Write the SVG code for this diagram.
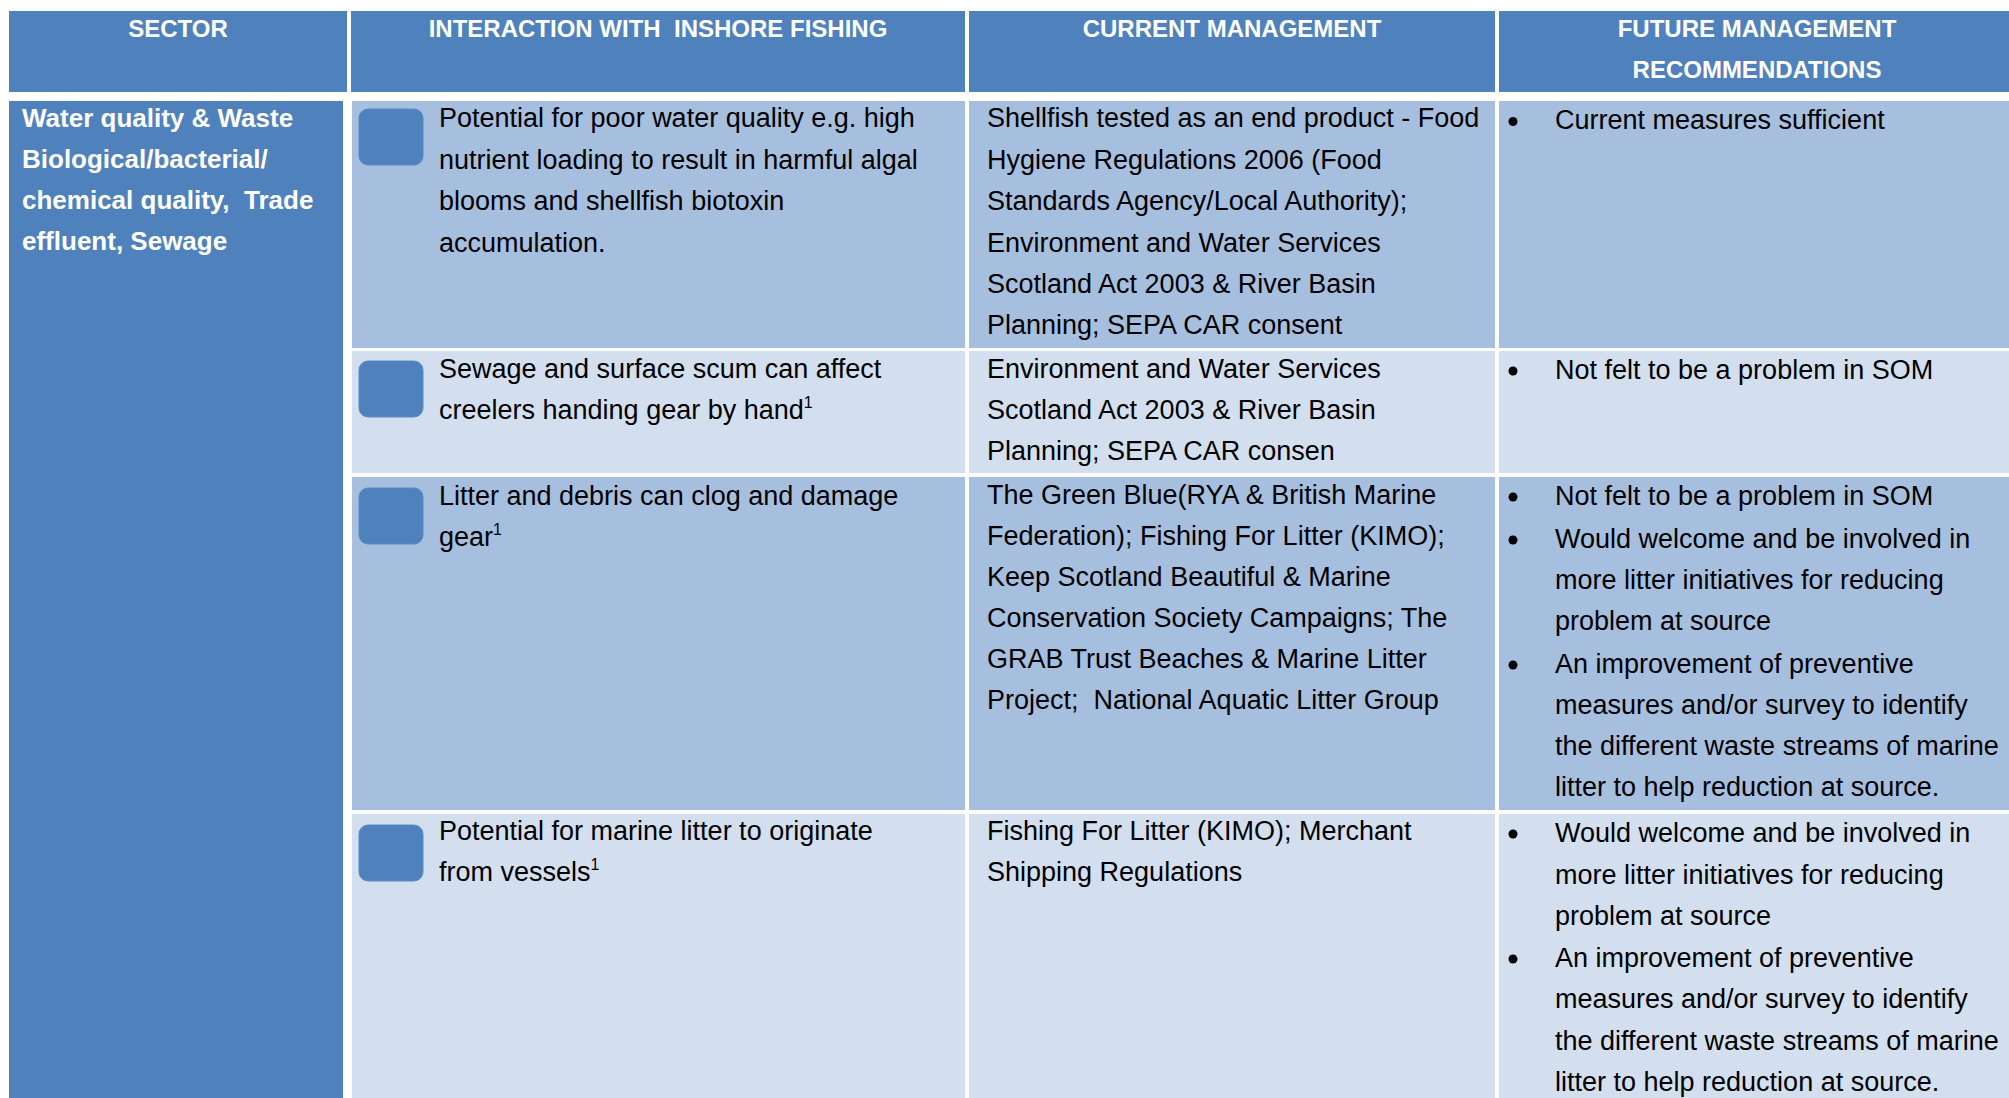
<svg xmlns="http://www.w3.org/2000/svg" width="2009" height="1098" viewBox="0 0 2009 1098">
<style>
.hd{fill:#4F81BD}
.mid{fill:#A7BFDE}
.lt{fill:#D3DFEE}
.ht{font-family:"Liberation Sans",Arial,sans-serif;font-weight:bold;font-size:24px;fill:#FFFFFF;text-anchor:middle;white-space:pre}
.st{font-family:"Liberation Sans",Arial,sans-serif;font-weight:bold;font-size:26px;fill:#FFFFFF;white-space:pre}
.t{font-family:"Liberation Sans",Arial,sans-serif;font-size:27px;fill:#000000;white-space:pre}
.sup{font-size:16px}
.sq{fill:#4F81BD;stroke:#5A8AC4;stroke-width:1}
.b{fill:#000000}
</style>
<rect x="0" y="0" width="2009" height="1098" fill="#FFFFFF"/>
<g id="header">
  <g id="h-sector"><rect class="hd" x="9" y="11" width="338" height="81"/><text class="ht" x="178" y="37">SECTOR</text></g>
  <g id="h-interaction"><rect class="hd" x="351" y="11" width="614" height="81"/><text class="ht" x="658" y="37">INTERACTION WITH  INSHORE FISHING</text></g>
  <g id="h-current"><rect class="hd" x="969" y="11" width="526" height="81"/><text class="ht" x="1232" y="37">CURRENT MANAGEMENT</text></g>
  <g id="h-future"><rect class="hd" x="1499" y="11" width="510" height="81"/><text class="ht" x="1757" y="37">FUTURE MANAGEMENT</text><text class="ht" x="1757" y="78">RECOMMENDATIONS</text></g>
</g>
<g id="sector">
  <rect class="hd" x="9" y="101" width="334" height="997"/>
  <text class="st" x="22" y="127">Water quality &amp; Waste</text>
  <text class="st" x="22" y="168">Biological/bacterial/</text>
  <text class="st" x="22" y="209">chemical quality,  Trade</text>
  <text class="st" x="22" y="250">effluent, Sewage</text>
</g>
<g id="row1">
  <rect class="mid" x="352" y="101" width="613" height="247"/>
  <rect class="mid" x="969" y="101" width="526" height="247"/>
  <rect class="mid" x="1499" y="101" width="510" height="247"/>
  <rect class="sq" x="359" y="109" width="64" height="56" rx="9"/>
  <text class="t" x="439" y="127">Potential for poor water quality e.g. high</text>
  <text class="t" x="439" y="168.5">nutrient loading to result in harmful algal</text>
  <text class="t" x="439" y="210">blooms and shellfish biotoxin</text>
  <text class="t" x="439" y="251.5">accumulation.</text>
  <text class="t" x="987" y="127">Shellfish tested as an end product - Food</text>
  <text class="t" x="987" y="168.5">Hygiene Regulations 2006 (Food</text>
  <text class="t" x="987" y="210">Standards Agency/Local Authority);</text>
  <text class="t" x="987" y="251.5">Environment and Water Services</text>
  <text class="t" x="987" y="293">Scotland Act 2003 &amp; River Basin</text>
  <text class="t" x="987" y="334">Planning; SEPA CAR consent</text>
  <circle class="b" cx="1513" cy="121.5" r="4.5"/>
  <text class="t" x="1555" y="129">Current measures sufficient</text>
</g>
<g id="row2">
  <rect class="lt" x="352" y="351" width="613" height="122"/>
  <rect class="lt" x="969" y="351" width="526" height="122"/>
  <rect class="lt" x="1499" y="351" width="510" height="122"/>
  <rect class="sq" x="359" y="361" width="64" height="56" rx="9"/>
  <text class="t" x="439" y="378">Sewage and surface scum can affect</text>
  <text class="t" x="439" y="419">creelers handing gear by hand<tspan class="sup" dy="-11">1</tspan></text>
  <text class="t" x="987" y="378">Environment and Water Services</text>
  <text class="t" x="987" y="419">Scotland Act 2003 &amp; River Basin</text>
  <text class="t" x="987" y="460">Planning; SEPA CAR consen</text>
  <circle class="b" cx="1513" cy="371" r="4.5"/>
  <text class="t" x="1555" y="379">Not felt to be a problem in SOM</text>
</g>
<g id="row3">
  <rect class="mid" x="352" y="477" width="613" height="333"/>
  <rect class="mid" x="969" y="477" width="526" height="333"/>
  <rect class="mid" x="1499" y="477" width="510" height="333"/>
  <rect class="sq" x="359" y="488" width="64" height="56" rx="9"/>
  <text class="t" x="439" y="505">Litter and debris can clog and damage</text>
  <text class="t" x="439" y="546">gear<tspan class="sup" dy="-11">1</tspan></text>
  <text class="t" x="987" y="504">The Green Blue(RYA &amp; British Marine</text>
  <text class="t" x="987" y="545">Federation); Fishing For Litter (KIMO);</text>
  <text class="t" x="987" y="586">Keep Scotland Beautiful &amp; Marine</text>
  <text class="t" x="987" y="627">Conservation Society Campaigns; The</text>
  <text class="t" x="987" y="668">GRAB Trust Beaches &amp; Marine Litter</text>
  <text class="t" x="987" y="709">Project;  National Aquatic Litter Group</text>
  <circle class="b" cx="1513" cy="497" r="4.5"/>
  <text class="t" x="1555" y="505">Not felt to be a problem in SOM</text>
  <circle class="b" cx="1513" cy="540" r="4.5"/>
  <text class="t" x="1555" y="548">Would welcome and be involved in</text>
  <text class="t" x="1555" y="589">more litter initiatives for reducing</text>
  <text class="t" x="1555" y="630">problem at source</text>
  <circle class="b" cx="1513" cy="665" r="4.5"/>
  <text class="t" x="1555" y="673">An improvement of preventive</text>
  <text class="t" x="1555" y="714">measures and/or survey to identify</text>
  <text class="t" x="1555" y="755">the different waste streams of marine</text>
  <text class="t" x="1555" y="796">litter to help reduction at source.</text>
</g>
<g id="row4">
  <rect class="lt" x="352" y="814" width="613" height="284"/>
  <rect class="lt" x="969" y="814" width="526" height="284"/>
  <rect class="lt" x="1499" y="814" width="510" height="284"/>
  <rect class="sq" x="359" y="825" width="64" height="56" rx="9"/>
  <text class="t" x="439" y="840">Potential for marine litter to originate</text>
  <text class="t" x="439" y="881">from vessels<tspan class="sup" dy="-11">1</tspan></text>
  <text class="t" x="987" y="840">Fishing For Litter (KIMO); Merchant</text>
  <text class="t" x="987" y="881">Shipping Regulations</text>
  <circle class="b" cx="1513" cy="834" r="4.5"/>
  <text class="t" x="1555" y="842">Would welcome and be involved in</text>
  <text class="t" x="1555" y="884">more litter initiatives for reducing</text>
  <text class="t" x="1555" y="925">problem at source</text>
  <circle class="b" cx="1513" cy="959" r="4.5"/>
  <text class="t" x="1555" y="967">An improvement of preventive</text>
  <text class="t" x="1555" y="1008">measures and/or survey to identify</text>
  <text class="t" x="1555" y="1050">the different waste streams of marine</text>
  <text class="t" x="1555" y="1091">litter to help reduction at source.</text>
</g>
<g id="connectors"/>
</svg>
